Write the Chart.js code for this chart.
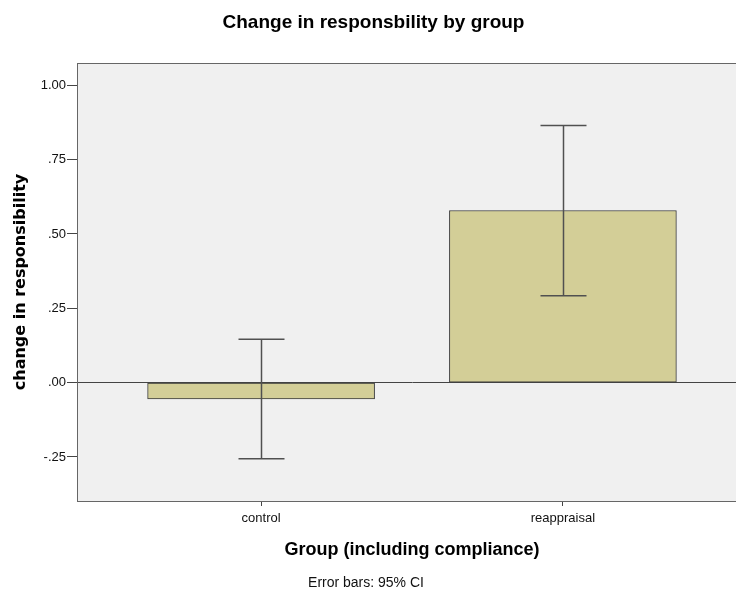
<!DOCTYPE html>
<html>
<head>
<meta charset="utf-8">
<script src="https://cdn.jsdelivr.net/npm/chart.js@4/dist/chart.umd.min.js"></script>
<style>
    html, body { margin: 0; padding: 0; background: #fff; }
    #wrap { width: 736px; height: 592px; overflow: hidden; }
</style>
</head>
<body>
<div id="wrap"><canvas id="grafico" width="750" height="592"></canvas></div>
<script>
const groups = ['control', 'reappraisal'];
const means = [-0.055, 0.579];
const ciLow = [-0.256, 0.292];
const ciHigh = [0.146, 0.865];
const yTicks = [-0.25, 0.00, 0.25, 0.50, 0.75, 1.00];

const FONT = '"Liberation Sans", Arial, sans-serif';

function tickText(v) {
    // SPSS style: drop the leading zero (".25", "-.25")
    return v.toFixed(2).replace(/^(-?)0\./, '$1.');
}

// Grey plot area behind everything, frame on top
const plotBackground = {
    id: 'plotBackground',
    beforeDraw(chart) {
        const { ctx, chartArea: a } = chart;
        ctx.save();
        ctx.fillStyle = '#f0f0f0';
        ctx.fillRect(a.left, a.top, a.right - a.left, a.bottom - a.top);
        ctx.restore();
    },
    afterDraw(chart) {
        const { ctx, chartArea: a } = chart;
        ctx.save();
        ctx.strokeStyle = '#666';
        ctx.lineWidth = 1;
        ctx.strokeRect(Math.round(a.left) + 0.5, Math.round(a.top) + 0.5,
            Math.round(a.right - a.left), Math.round(a.bottom - a.top));
        ctx.restore();
    }
};

// 95% CI whiskers on each bar
const errorBars = {
    id: 'errorBars',
    afterDatasetsDraw(chart) {
        const { ctx, scales: { x, y } } = chart;
        ctx.save();
        ctx.strokeStyle = '#505050';
        ctx.lineWidth = 1.5;
        groups.forEach((g, i) => {
            const px = Math.round(x.getPixelForValue(i)) + 0.5;
            const top = y.getPixelForValue(ciHigh[i]);
            const bottom = y.getPixelForValue(ciLow[i]);
            ctx.beginPath();
            ctx.moveTo(px, top);
            ctx.lineTo(px, bottom);
            ctx.moveTo(px - 23, top);
            ctx.lineTo(px + 23, top);
            ctx.moveTo(px - 23, bottom);
            ctx.lineTo(px + 23, bottom);
            ctx.stroke();
        });
        ctx.restore();
    }
};

// Footnote under the axis title
const footnote = {
    id: 'footnote',
    afterDraw(chart) {
        const { ctx } = chart;
        ctx.save();
        ctx.font = '14px ' + FONT;
        ctx.fillStyle = '#111';
        ctx.textAlign = 'center';
        ctx.textBaseline = 'middle';
        ctx.fillText('Error bars: 95% CI', 366, 583);
        ctx.restore();
    }
};

const ctx = document.getElementById('grafico').getContext('2d');

new Chart(ctx, {
    type: 'bar',
    data: {
        datasets: [{
            data: groups.map((g, i) => ({ x: i, y: means[i] })),
            backgroundColor: '#d3ce97',
            borderColor: '#3a3a3a',
            borderWidth: 1,
            borderSkipped: false,
            barThickness: 227
        }]
    },
    options: {
        responsive: false,
        animation: false,
        layout: { padding: { left: 0, right: 3, top: 0, bottom: 0 } },
        plugins: {
            legend: { display: false },
            tooltip: { enabled: false },
            title: {
                display: true,
                text: 'Change in responsbility by group',
                color: '#000',
                font: { family: FONT, size: 19, weight: 'bold' },
                padding: { top: 11, bottom: 29.2 }
            }
        },
        scales: {
            x: {
                type: 'linear',
                offset: false,
                min: -0.61,
                max: 1.61,
                afterBuildTicks: (scale) => {
                    scale.ticks = groups.map((g, i) => ({ value: i }));
                },
                afterFit: (scale) => { scale.height = 91; },
                ticks: {
                    callback: (v) => groups[v],
                    color: '#111',
                    font: { family: FONT, size: 13 },
                    padding: 5,
                    maxRotation: 0
                },
                grid: {
                    offset: false,
                    drawOnChartArea: false,
                    tickLength: 5,
                    tickColor: '#444'
                },
                border: { color: '#444' },
                title: {
                    display: true,
                    text: 'Group (including compliance)',
                    color: '#000',
                    font: { family: FONT, size: 18, weight: 'bold' },
                    padding: { top: 0, bottom: 31 }
                }
            },
            y: {
                min: -0.398,
                max: 1.075,
                afterBuildTicks: (scale) => {
                    scale.ticks = yTicks.map(v => ({ value: v }));
                },
                afterFit: (scale) => { scale.width = 77; },
                ticks: {
                    callback: (v) => tickText(v),
                    color: '#111',
                    font: { family: FONT, size: 13 },
                    padding: 1
                },
                grid: {
                    color: (c) => (c.tick && c.tick.value === 0 ? '#444' : 'rgba(0,0,0,0)'),
                    tickColor: '#444',
                    tickLength: 10
                },
                border: { color: '#444' },
                title: {
                    display: true,
                    text: 'change in responsibility',
                    color: '#000',
                    font: { family: '"DejaVu Sans", sans-serif', size: 16, weight: 'bold' },
                    padding: { top: 11.4, bottom: 0 }
                }
            }
        }
    },
    plugins: [plotBackground, errorBars, footnote]
});
</script>
</body>
</html>
